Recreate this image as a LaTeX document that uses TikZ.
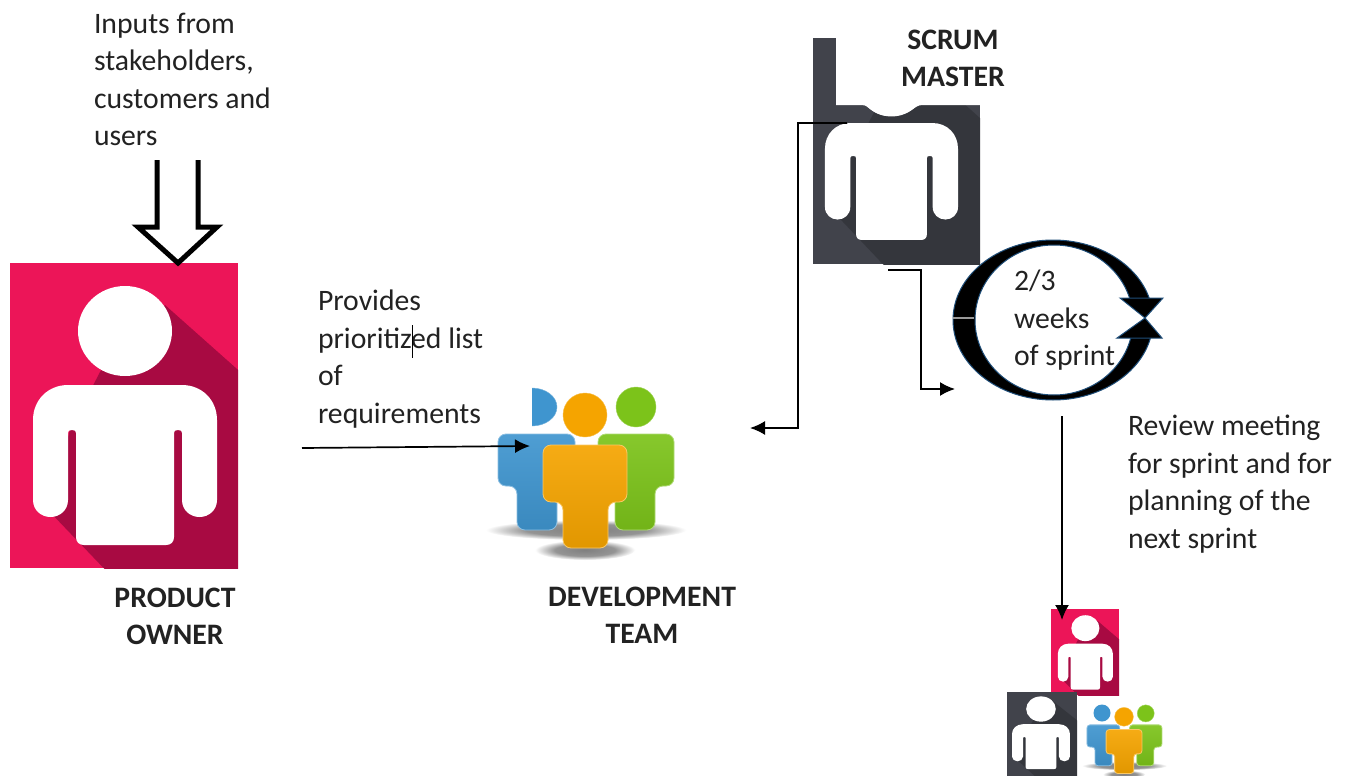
\documentclass[tikz,border=0pt]{standalone}
\usepackage{fontspec}
\setmainfont{Carlito}
\usetikzlibrary{arrows.meta}
\definecolor{pinkbg}{HTML}{EC1558}
\definecolor{pinkbgS}{HTML}{A80A42}
\definecolor{darkbg}{HTML}{41434B}
\definecolor{darkbgS}{HTML}{34363C}
\definecolor{textc}{HTML}{222222}
\pgfdeclareradialshading{softsh}{\pgfpointorigin}{color(0bp)=(black!50); color(15bp)=(black!42); color(25bp)=(white); color(50bp)=(white)}
\tikzset{
  lbl/.style={inner sep=0pt,outer sep=0pt,text=textc,font=\fontsize{29.7}{37.5}\selectfont,align=left,anchor=north west},
  head/.style={inner sep=0pt,outer sep=0pt,text=textc,font=\fontsize{29.7}{37}\selectfont\bfseries,align=center,anchor=center},
  conn/.style={draw=black,line width=1.7pt,-{Latex[length=15pt,width=14pt]}},
  ringedge/.style={draw={rgb,255:red,31;green,78;blue,121},line width=1pt,line join=miter}
}
% rect x0,y0,x1,y1; figure ox,oy,sx,sy; colour
\newcommand{\personicon}[9]{%
  \fill[#9] (#1,#2) rectangle (#3,#4);
  \begin{scope}
    \clip (#1,#2) rectangle (#3,#4);
    \begin{scope}[shift={(#5,#6)},xscale=#7,yscale=#8]
      \fill[#9S] (165,305) -- (300,425) -- (300,700) -- (230,700) -- (48,510) -- (70,430) -- (100,372) -- cycle;
      \fill[white] (125,331) ellipse [x radius=47,y radius=45];
      \fill[white] (33,420) .. controls (33,400) and (48,385) .. (68,385) -- (182,385)
        .. controls (202,385) and (217,400) .. (217,420) -- (217,500)
        .. controls (217,510) and (209,517) .. (199.5,517)
        .. controls (190,517) and (182,510) .. (182,500) -- (182,433)
        .. controls (182,431) and (181,430) .. (178,430)
        .. controls (175,430) and (174,431) .. (174,433) -- (174,537)
        .. controls (174,542) and (171,545) .. (166,545) -- (84,545)
        .. controls (79,545) and (76,542) .. (76,537) -- (76,433)
        .. controls (76,431) and (75,430) .. (72,430)
        .. controls (69,430) and (68,431) .. (68,433) -- (68,500)
        .. controls (68,510) and (60,517) .. (50.5,517)
        .. controls (41,517) and (33,510) .. (33,500) -- cycle;
    \end{scope}
  \end{scope}
}
\newcommand{\teamfig}[9]{%
  \path[rounded corners=#9,top color=#8!92!white,bottom color=#8!92!black,draw=white!40!#8,line width=.8pt]
    (#1,#3) -- (#2,#3) -- (#2,#4) -- (#6,#4) -- (#6,#7) -- (#5,#7) -- (#5,#4) -- (#1,#4) -- cycle;
}
\definecolor{tblue}{HTML}{3F95CF}
\definecolor{tgreen}{HTML}{7CC31A}
\definecolor{torange}{HTML}{F5A400}
% team group: ox,oy,scale,radius
\newcommand{\teamgroup}[4]{%
  \begin{scope}[shift={(#1,#2)},scale=#3]
    \path[shading=softsh] (586,530) ellipse [x radius=100,y radius=10];
    \path[shading=softsh] (585,550) ellipse [x radius=50,y radius=10];
    \teamfig{498}{575}{434}{486}{517}{557}{530}{tblue}{#4}
    \teamfig{598}{674}{434}{486}{615}{655}{530}{tgreen}{#4}
    \fill[tgreen,draw=tgreen!70!white] (636,407) circle [radius=20];
    \fill[torange,draw=torange!70!white] (585,415) circle [radius=22];
    \teamfig{543}{627}{445}{502}{563}{608}{548}{torange}{#4}
  \end{scope}
}
\begin{document}
\begin{tikzpicture}[x=1pt,y=-1pt]
\useasboundingbox (0,0) rectangle (1347,776);
\fill[white] (0,0) rectangle (1347,776);

% product owner
\personicon{10}{263}{238}{568}{0}{0}{1}{1}{pinkbg}
% scrum master
\personicon{813}{38}{980}{264}{801.1}{-158.4}{.723}{.731}{darkbg}
\fill[white] (836,28) -- (981,28) -- (981,105) -- (922,105) .. controls (914,105) and (910,116) .. (891,116) .. controls (872,116) and (870,105) .. (862,105) -- (836,105) -- cycle;
% small icons
\personicon{1051}{609}{1119}{695}{1048}{533}{.299}{.2875}{pinkbg}
\personicon{1007}{692}{1077}{776}{1001.6}{616}{.315}{.281}{darkbg}

% development team
\begin{scope}
  \clip (532,380) rectangle (558,435);
  \fill[tblue,draw=tblue!70!white] (532,407) ellipse [x radius=25,y radius=19];
\end{scope}
\teamgroup{0}{0}{1}{8pt}
% small team
\fill[tblue] (1102,713) circle [radius=8.5];
\teamgroup{874.8}{540}{.426}{3pt}

% sprint ring
\fill[black,even odd rule,ringedge] (1053,320) ellipse [x radius=100,y radius=80] (1054,320) ellipse [x radius=79,y radius=75];
\fill[white] (1126,300) rectangle (1172,336);
\fill[black,ringedge] (1120,298) -- (1163,298) -- (1145,318) -- cycle;
\fill[black,ringedge] (1117,338) -- (1162,338) -- (1145,318) -- cycle;
\draw[line width=2pt,color=black!40!white] (953,318) -- (974,318);

% hollow arrow
\draw[line width=5pt,line join=miter] (157,160) -- (157,227) -- (138,227) -- (178,263) -- (217,227) -- (198,227) -- (198,160);

% texts
\node[lbl] (inputs) at (94,13) {Inputs from\\stakeholders,\\customers and\\users};
\node[lbl] (reqs) at (318,290) {Provides\\prioritized list\\of\\requirements};
\node[lbl] (weeks) at (1014,270) {2/3\\weeks\\of sprint};
\node[lbl] (review) at (1128,415) {Review meeting\\for sprint and for\\planning of the\\next sprint};
\node[head] (pown) at (175,616.5) {PRODUCT\\OWNER};
\node[head] (dteam) at (642,615) {DEVELOPMENT\\TEAM};
\node[head] (sm) at (953,58.5) {SCRUM\\MASTER};

% text cursor
\coordinate (curA) at (412,325); \coordinate (curB) at (412,358);
\draw[line width=.9pt] (curA) -- (curB);

% connectors
\coordinate (a1) at (302,448); \coordinate (a2) at (530,446);
\draw[conn] (a1) -- (a2);
\coordinate (b1) at (847,123); \coordinate (b2) at (798,123); \coordinate (b3) at (798,428); \coordinate (b4) at (750,428);
\draw[conn] (b1) -- (b2) -- (b3) -- (b4);
\coordinate (c1) at (888,270); \coordinate (c2) at (921,270); \coordinate (c3) at (921,389); \coordinate (c4) at (955,389);
\draw[conn] (c1) -- (c2) -- (c3) -- (c4);
\coordinate (d1) at (1062,416); \coordinate (d2) at (1062,620);
\draw[conn] (d1) -- (d2);
\end{tikzpicture}
\end{document}
